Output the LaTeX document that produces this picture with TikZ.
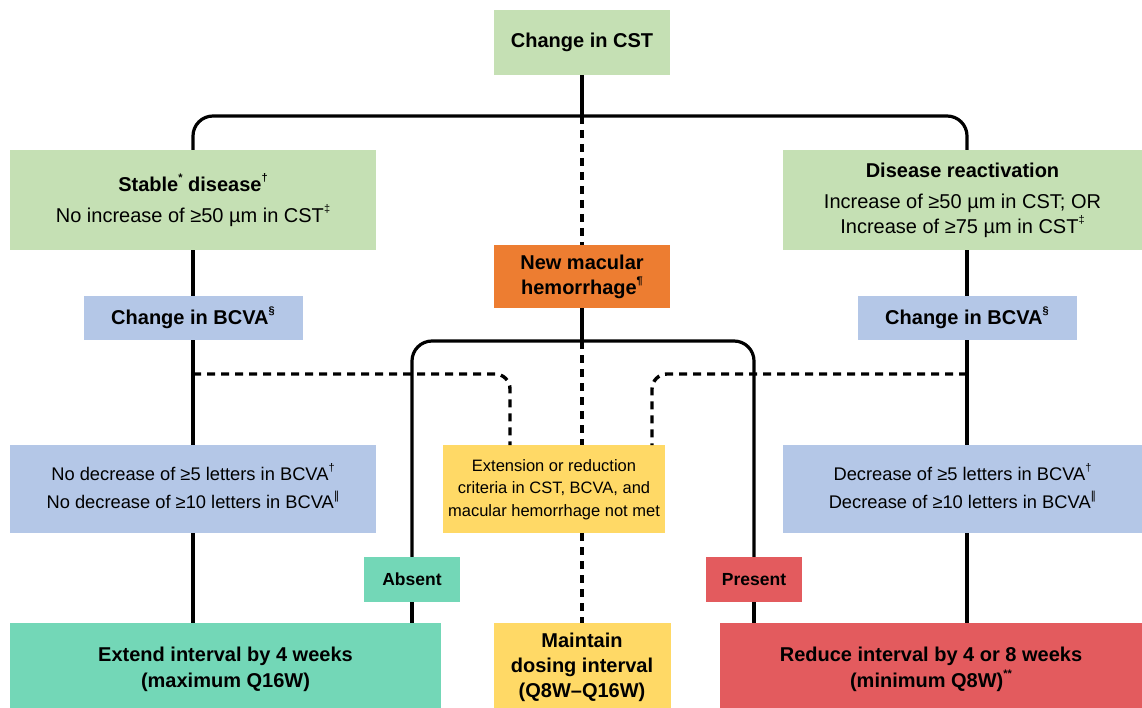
\documentclass[tikz,border=0pt]{standalone}
\usepackage{fontspec}
\setmainfont{Liberation Sans}
\newfontfamily\dejavu{DejaVu Sans}
\usetikzlibrary{calc,positioning}

\definecolor{cstgreen}{HTML}{C5E0B4}
\definecolor{bcvablue}{HTML}{B4C7E7}
\definecolor{hemorange}{HTML}{ED7D31}
\definecolor{crityellow}{HTML}{FFD966}
\definecolor{extendteal}{HTML}{73D7B7}
\definecolor{reducered}{HTML}{E35B5E}

\newcommand{\fnmark}[1]{\raisebox{0.5em}{\fontsize{11}{11}\selectfont #1}}
% text block moved up or down inside its box
\newcommand{\shifted}[2]{\raisebox{#1}{\begin{tabular}{@{}c@{}}#2\end{tabular}}}

\begin{document}
\begin{tikzpicture}[
  x=1pt, y=-1pt,
  font=\fontsize{20}{25}\selectfont,
  box/.style={rectangle, inner sep=0pt, align=center},
  small/.style={font=\fontsize{18.3}{28}\selectfont},
  tag/.style={box, font=\fontsize{17.5}{20}\selectfont\bfseries, minimum width=96pt, minimum height=45pt},
  solidline/.style={line width=3.2pt, black},
  dashline/.style={line width=3.4pt, black, dash pattern=on 8pt off 6pt},
  midline/.style={dashline, line width=4.8pt}
]

\useasboundingbox (0,0) rectangle (1142,708);

% CST level
\node[box, fill=cstgreen, minimum width=176pt, minimum height=65pt] (cst) at (582,42.5) {\textbf{Change in CST}};
\node[box, fill=cstgreen, minimum width=366pt, minimum height=100pt] (stable) at (193,200)
  {\textbf{Stable\fnmark{*} disease\fnmark{†}}\\[6pt] No increase of ≥50 µm in CST\fnmark{‡}};
\node[box, fill=cstgreen, minimum width=359pt, minimum height=100pt] (react) at (962.5,200)
  {\textbf{Disease reactivation}\\[6pt] Increase of ≥50 µm in CST; OR\\ Increase of ≥75 µm in CST\fnmark{‡}};

% Hemorrhage and BCVA level
\node[box, fill=hemorange, minimum width=176pt, minimum height=63pt] (mh) at (582,276.5)
  {\textbf{New macular}\\ \textbf{hemorrhage\fnmark{¶}}};
\node[box, fill=bcvablue, minimum width=219pt, minimum height=44pt] (bcvaL) at (193,318) {\textbf{Change in BCVA\fnmark{§}}};
\node[box, fill=bcvablue, minimum width=219pt, minimum height=44pt] (bcvaR) at (967,318) {\textbf{Change in BCVA\fnmark{§}}};

% BCVA criteria
\node[box, small, fill=bcvablue, minimum width=366pt, minimum height=88pt] (nodec) at (193,489)
  {\shifted{2.5pt}{No decrease of ≥5 letters in BCVA\fnmark{†}\\ No decrease of ≥10 letters in BCVA\fnmark{\dejavu ‖}}};
\node[box, fill=crityellow, minimum width=222pt, minimum height=88pt, font=\fontsize{16.5}{22.5}\selectfont] (crit) at (554,489)
  {\shifted{-3.5pt}{Extension or reduction\\ criteria in CST, BCVA, and\\ macular hemorrhage not met}};
\node[box, small, fill=bcvablue, minimum width=359pt, minimum height=88pt] (dec) at (962.5,489)
  {\shifted{2.5pt}{Decrease of ≥5 letters in BCVA\fnmark{†}\\ Decrease of ≥10 letters in BCVA\fnmark{\dejavu ‖}}};

% Hemorrhage tags
\node[tag, fill=extendteal] (absent) at (412,579.5) {Absent};
\node[tag, fill=reducered] (present) at (754,579.5) {Present};

% Outcomes (cut off by the lower edge)
\node[box, fill=extendteal, minimum width=431pt, minimum height=93pt, font=\fontsize{20}{26}\selectfont\bfseries] (extend) at (225.5,669.5)
  {Extend interval by 4 weeks\\ (maximum Q16W)};
\node[box, fill=crityellow, minimum width=177pt, minimum height=89pt, font=\fontsize{20}{25}\selectfont\bfseries] (maintain) at (582,667.5)
  {Maintain\\ dosing interval\\ (Q8W--Q16W)};
\node[box, fill=reducered, minimum width=422pt, minimum height=93pt, font=\fontsize{20}{26}\selectfont\bfseries] (reduce) at (931,669.5)
  {Reduce interval by 4 or 8 weeks\\ (minimum Q8W)\fnmark{**}};

% junctions
\coordinate (topJ) at (582,116);
\coordinate (midJ) at (582,341);
\coordinate (dashL) at (193,374);
\coordinate (dashR) at (967,374);
\coordinate (critL) at (510,445);
\coordinate (critR) at (652,445);

% dashed connectors
\draw[midline] (topJ) -- (mh);
\draw[midline] (midJ) -- (midJ |- crit.north);
\draw[midline] (midJ |- crit.south) -- (maintain);
\draw[dashline, rounded corners=15pt] (dashL) -| (critL);
\draw[dashline, rounded corners=15pt] (dashR) -| (critR);

% solid connectors
\draw[solidline] (cst) -- (topJ);
\draw[solidline, rounded corners=20pt] (stable.north) |- (topJ) -| (react.north -| bcvaR);
\draw[solidline] (stable) -- (bcvaL);
\draw[solidline] (bcvaL) -- (nodec);
\draw[solidline] (nodec.south) -- (nodec.south |- extend.north);
\draw[solidline] (react.south -| bcvaR) -- (bcvaR);
\draw[solidline] (bcvaR) -- (bcvaR |- dec.north);
\draw[solidline] (bcvaR |- dec.south) -- (bcvaR |- reduce.north);
\draw[solidline] (mh) -- (midJ);
\draw[solidline, rounded corners=20pt] (absent.north) |- (midJ) -| (present.north);
\draw[solidline] (absent) -- (absent |- extend.north);
\draw[solidline] (present) -- (present |- reduce.north);
\end{tikzpicture}
\end{document}
